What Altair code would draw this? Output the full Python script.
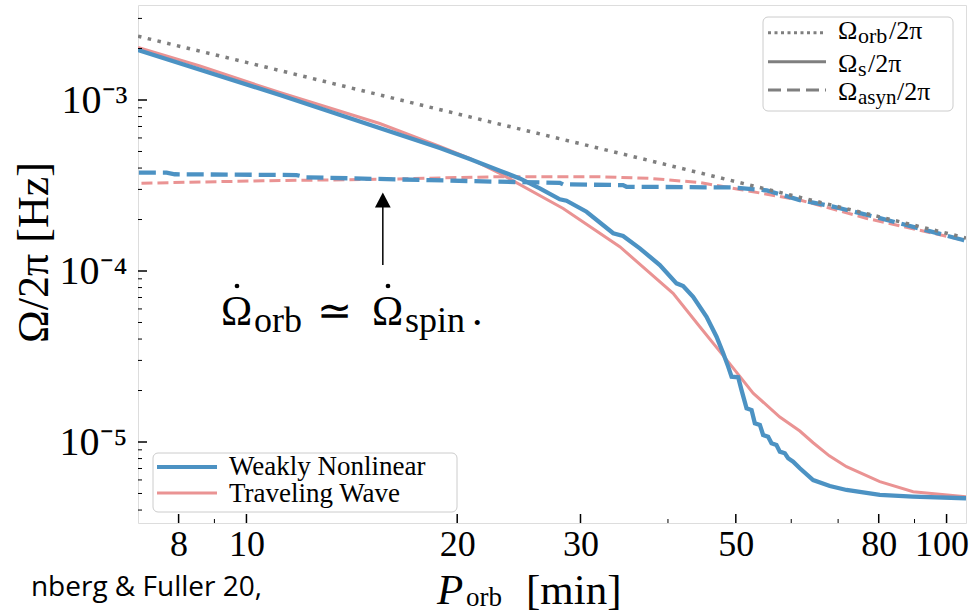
import altair as alt
import pandas as pd

SERIF = "Liberation Serif"

# ---------------- data ----------------
# Omega_orb / 2pi  (dotted grey)
P_orb = [7.0, 10.0, 20.0, 30.0, 50.0, 80.0, 106.6]
W_orb = [2.36e-3, 1.66e-3, 8.3e-4, 5.55e-4, 3.33e-4, 2.08e-4, 1.56e-4]

# Weakly Nonlinear, Omega_s / 2pi (solid blue)
P_wnl_s = [7.00, 11.16, 18.89, 20.84, 23.01, 24.57, 26.24, 28.03, 28.65, 30.60, 33.41,
           34.51, 36.46, 38.94, 41.14, 42.05, 43.45, 45.41, 46.93, 47.97, 48.76, 49.31,
           50.39, 50.95, 51.80, 52.66, 53.23, 54.12, 54.70, 55.61, 56.23, 57.15, 57.79,
           58.75, 59.39, 60.38, 61.72, 64.48, 68.12, 71.96, 80.29, 89.5, 106.6]
W_wnl_s = [1.96e-3, 1.07e-3, 5.24e-4, 4.52e-4, 3.86e-4, 3.48e-4, 3.045e-4, 2.626e-4, 2.577e-4,
           2.222e-4, 1.662e-4, 1.602e-4, 1.357e-4, 1.084e-4, 8.47e-5, 8.17e-5, 7.07e-5,
           5.40e-5, 4.13e-5, 3.30e-5, 2.76e-5, 2.41e-5, 2.39e-5, 2.01e-5, 1.574e-5,
           1.538e-5, 1.286e-5, 1.258e-5, 1.099e-5, 1.074e-5, 9.83e-6, 9.60e-6, 8.78e-6,
           8.59e-6, 8.03e-6, 7.67e-6, 7.02e-6, 5.99e-6, 5.53e-6, 5.24e-6, 4.90e-6,
           4.79e-6, 4.69e-6]

# Traveling Wave, Omega_s / 2pi (solid pink)
P_tw_s = [7.00, 8.58, 11.16, 15.50, 18.89, 20.84, 23.01, 28.34, 34.14, 40.68, 44.42,
          48.52, 52.93, 57.79, 61.72, 64.48, 68.0, 71.96, 80.29, 89.6, 106.6]
W_tw_s = [2.028e-3, 1.58e-3, 1.106e-3, 7.29e-4, 5.35e-4, 4.55e-4, 3.72e-4, 2.32e-4,
          1.387e-4, 7.41e-5, 4.72e-5, 3.02e-5, 1.93e-5, 1.40e-5, 1.159e-5, 9.9e-6,
          8.3e-6, 7.17e-6, 5.86e-6, 5.12e-6, 4.79e-6]

# Weakly Nonlinear, Omega_asyn / 2pi (dashed blue)
P_wnl_a = [7.02, 7.69, 7.90, 11.79, 12.18, 18.27, 22.76, 28.03, 28.34, 34.5, 34.9,
           49.56, 55.36, 61.72, 68.87, 80.29, 105.6, 106.6]
W_wnl_a = [3.76e-4, 3.76e-4, 3.68e-4, 3.64e-4, 3.53e-4, 3.40e-4, 3.33e-4, 3.28e-4,
           3.21e-4, 3.18e-4, 3.11e-4, 3.08e-4, 2.96e-4, 2.60e-4, 2.38e-4, 2.04e-4,
           1.518e-4, 1.50e-4]

# Traveling Wave, Omega_asyn / 2pi (dashed pink)
P_tw_a = [7.08, 10.56, 15.66, 22.76, 31.96, 37.68, 44.42, 50.67, 61.72, 76.93, 105.6, 106.6]
W_tw_a = [3.26e-4, 3.37e-4, 3.44e-4, 3.56e-4, 3.56e-4, 3.48e-4, 3.29e-4, 3.00e-4,
          2.60e-4, 2.03e-4, 1.518e-4, 1.50e-4]

# annotation arrow (at P = 15.66 min)
P_arrow = [15.66]
W_arrow_tail = [1.084e-4]
W_arrow_head = [2.60e-4]

# axis ticks
x_major = [8, 10, 20, 30, 50, 80, 100]
x_minor = [9, 40, 60, 70, 90]
y_major = [1e-5, 1e-4, 1e-3]
y_minor = [4e-6, 5e-6, 6e-6, 7e-6, 8e-6, 9e-6,
           2e-5, 3e-5, 4e-5, 5e-5, 6e-5, 7e-5, 8e-5, 9e-5,
           2e-4, 3e-4, 4e-4, 5e-4, 6e-4, 7e-4, 8e-4, 9e-4,
           2e-3, 3e-3]

models = ["Weakly Nonlinear", "Traveling Wave"]
BLUE = "#4c92c3"
PINK = "#ea9393"
GREY = "#7f7f7f"

# ---------------- chart ----------------
W, H = 828, 518
xscale = alt.Scale(type="log", domain=[7.0, 106.6], nice=False)
yscale = alt.Scale(type="log", domain=[3.36e-6, 3.594e-3], nice=False)

xaxis = alt.Axis(values=x_major, format="~g", title=None, ticks=False, domain=False,
                 grid=False, labelFont=SERIF, labelFontSize=36, labelPadding=4,
                 labelColor="black", labelOverlap=False, labelFlush=False,
                 labelOffset={"condition": {"test": "datum.value == 100", "value": -5},
                              "value": 0})
yaxis = alt.Axis(values=y_major,
                 labelExpr="datum.value > 5e-4 ? '10⁻³' : (datum.value > 5e-5 ? '10⁻⁴' : '10⁻⁵')",
                 ticks=False, domain=False, grid=False, labelFont=SERIF, labelFontSize=40,
                 labelPadding=11, labelColor="black",
                 title="Ω/2π [Hz]", titleFont=SERIF, titleFontSize=44,
                 titleFontWeight="normal", titleColor="black",
                 titleX=-104, titleY=247, titleAngle=270, titleAlign="center",
                 titleBaseline="middle")

X = lambda: alt.X("P:Q", scale=xscale, axis=xaxis)
Y = lambda: alt.Y("W:Q", scale=yscale, axis=yaxis)


def series(P, Wv, color, width, dash=None, cap="butt"):
    df = pd.DataFrame({"P": P, "W": Wv})
    kw = dict(color=color, strokeWidth=width, clip=True, strokeCap=cap)
    if dash:
        kw["strokeDash"] = dash
    return alt.Chart(df).mark_line(**kw).encode(x=X(), y=Y())


one = pd.DataFrame({"a": [0]})


def txt(s, x, y, size, font=SERIF, align="left", style="normal", color="black"):
    return alt.Chart(one).mark_text(text=s, align=align, baseline="alphabetic",
                                    fontSize=size, font=font, fontStyle=style,
                                    color=color).encode(x=alt.value(x), y=alt.value(y))


def dot(x, y, size=22):
    return alt.Chart(one).mark_circle(color="black", size=size, opacity=1).encode(
        x=alt.value(x), y=alt.value(y))


def seg(x1, x2, y, color, width, dash=None):
    kw = dict(color=color, strokeWidth=width, strokeCap="butt")
    if dash:
        kw["strokeDash"] = dash
    return alt.Chart(one).mark_rule(**kw).encode(x=alt.value(x1), x2=alt.value(x2), y=alt.value(y))


def box(x1, x2, y1, y2):
    return alt.Chart(one).mark_rect(fill="white", fillOpacity=0.85, stroke="#cccccc",
                                    strokeWidth=1, cornerRadius=5).encode(
        x=alt.value(x1), x2=alt.value(x2), y=alt.value(y1), y2=alt.value(y2))


layers = []
# curves
layers.append(series(P_tw_s, W_tw_s, PINK, 3))
layers.append(series(P_tw_a, W_tw_a, PINK, 3, dash=[11, 5]))
layers.append(series(P_wnl_s, W_wnl_s, BLUE, 4.3))
layers.append(series(P_wnl_a, W_wnl_a, BLUE, 4.3, dash=[17, 7]))
layers.append(series(P_orb, W_orb, GREY, 3.5, dash=[3.5, 6.5]))

# ticks (inside)
layers.append(alt.Chart(pd.DataFrame({"P": x_major})).mark_rule(color="black", strokeWidth=1.5)
              .encode(x=X(), y=alt.value(H), y2=alt.value(H - 9)))
layers.append(alt.Chart(pd.DataFrame({"P": x_minor})).mark_rule(color="black", strokeWidth=1)
              .encode(x=X(), y=alt.value(H), y2=alt.value(H - 4)))
layers.append(alt.Chart(pd.DataFrame({"W": y_major})).mark_rule(color="black", strokeWidth=1.5)
              .encode(y=Y(), x=alt.value(0), x2=alt.value(9)))
layers.append(alt.Chart(pd.DataFrame({"W": y_minor})).mark_rule(color="black", strokeWidth=1)
              .encode(y=Y(), x=alt.value(0), x2=alt.value(4)))

# arrow
arrow_df = pd.DataFrame({"P": P_arrow, "W": W_arrow_tail, "W2": W_arrow_head})
layers.append(alt.Chart(arrow_df).mark_rule(color="black", strokeWidth=1.5)
              .encode(x=X(), y=Y(), y2="W2:Q"))
layers.append(alt.Chart(arrow_df).mark_point(shape="M0,-1L-1.05,1L1.05,1Z", size=225,
                                             filled=True, color="black", opacity=1)
              .encode(x=X(), y=alt.Y("W2:Q", scale=yscale, axis=yaxis)))

# annotation text: Omega-dot_orb  ~=  Omega-dot_spin .
layers += [
    txt("Ω", 83, 320, 42), dot(99, 281),
    txt("orb", 116, 327, 36),
    txt("≃", 179, 320, 42),
    txt("Ω", 234, 320, 42), dot(250, 281),
    txt("spin", 267, 327, 36),
    txt(".", 334, 320, 42),
]

# legend: line styles (top right)
layers += [
    box(625, 815, 12, 106),
    seg(630, 688, 27.7, GREY, 3, dash=[3, 3.5]),
    seg(630, 688, 56.7, GREY, 3),
    seg(630, 688, 85, GREY, 3, dash=[13, 6]),
    txt("Ω", 700, 34, 26), txt("orb", 720, 38, 22), txt("/2π", 751, 34, 26),
    txt("Ω", 700, 66.7, 26), txt("s", 720, 70.7, 22), txt("/2π", 730, 66.7, 26),
    txt("Ω", 700, 95, 26), txt("asyn", 720, 99, 21), txt("/2π", 759, 95, 26),
]

# legend: models (bottom left)
layers += [
    box(15, 319, 448, 507),
    seg(19, 79, 462, BLUE, 4),
    seg(19, 79, 488, PINK, 3),
    txt(models[0], 91, 470, 27),
    txt(models[1], 91, 497, 27),
]

# x-axis title and citation
layers += [
    txt("P", 299, 599, 43, style="italic"),
    txt("orb", 328, 601, 27),
    txt("[min]", 388, 599, 43),
    txt("nberg & Fuller 20,", 124, 591, 28, font="Open Sans", align="right"),
]

chart = alt.layer(*layers).properties(
    width=W, height=H,
    autosize=alt.AutoSizeParams(type="none"),
    padding={"left": 138, "top": 5, "right": 5, "bottom": 90},
).configure_view(stroke="black", strokeWidth=1.5).configure(background="white")

chart.save("out.html", embed_options={"renderer": "svg", "actions": False})
